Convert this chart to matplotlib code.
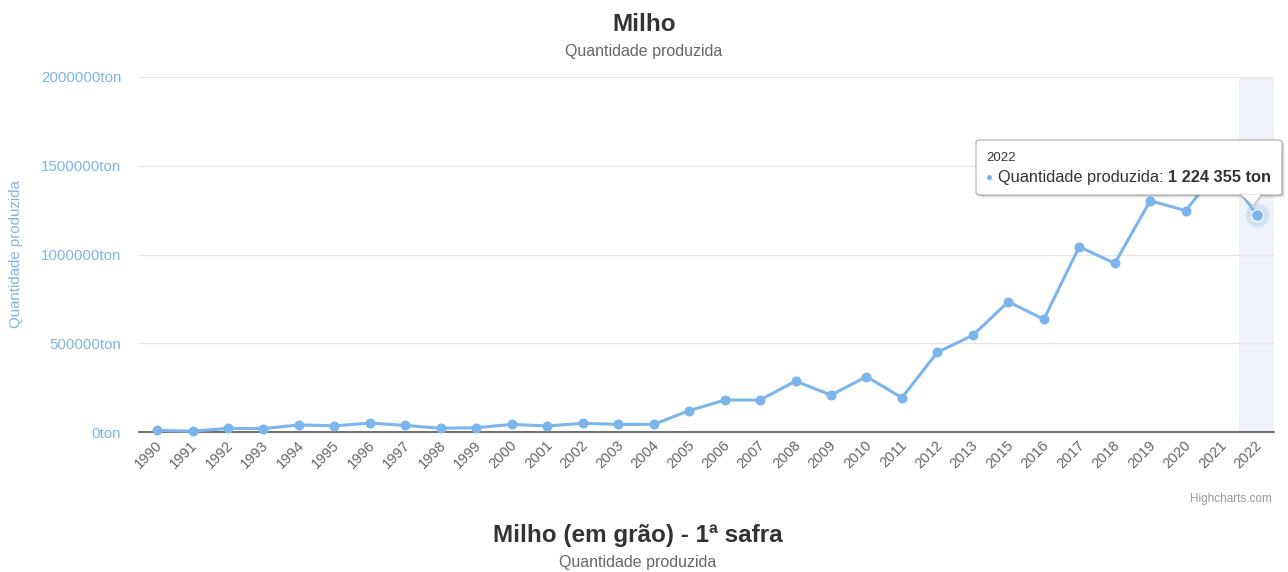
import matplotlib
matplotlib.use("Agg")
import matplotlib.pyplot as plt
from matplotlib.patches import FancyBboxPatch, Polygon
from matplotlib.transforms import ScaledTranslation

plt.rcParams['font.family'] = ['Liberation Sans', 'DejaVu Sans']

years = ['1990', '1991', '1992', '1993', '1994', '1995', '1996', '1997', '1998', '1999',
         '2000', '2001', '2002', '2003', '2004', '2005', '2006', '2007', '2008', '2009',
         '2010', '2011', '2012', '2013', '2015', '2016', '2017', '2018', '2019', '2020',
         '2021', '2022']
producao = [9000, 5000, 20000, 19000, 40000, 35000, 50000, 37000, 21000, 24000,
            43000, 34000, 49000, 43000, 43000, 120000, 180000, 180000, 287000, 208000,
            312000, 193000, 449000, 545000, 734000, 635000, 1044000, 950000, 1303000, 1247000,
            1500000, 1224355]
yticks = [0, 500000, 1000000, 1500000, 2000000]
ytick_labels = ['0ton', '500000ton', '1000000ton', '1500000ton', '2000000ton']

W, H = 1288, 572
fig = plt.figure(figsize=(W / 100, H / 100), dpi=100)
fig.patch.set_facecolor('white')

def fx(px):
    return px / W

def fy(py):
    return 1 - py / H

ax = fig.add_axes([fx(139.3), fy(432), fx(1274.4) - fx(139.3), (432 - 77) / H])
ax.set_facecolor('white')
n = len(years)
xs = list(range(n))
ax.set_xlim(-0.5, n - 0.5)
ax.set_ylim(0, 2000000)

blue = '#7cb5ec'
# highlight band for hovered category
ax.axvspan(n - 1.5, n - 0.5, color='#ccd6eb', alpha=0.3, lw=0, zorder=0)

ax.set_yticks(yticks)
ax.set_yticklabels(ytick_labels)
ax.grid(axis='y', color='#e6e6e6', lw=1, zorder=1)
ax.set_axisbelow(True)
for s in ['top', 'right', 'left']:
    ax.spines[s].set_visible(False)
ax.spines['bottom'].set_color('#555555')
ax.spines['bottom'].set_linewidth(1.2)
ax.spines['bottom'].set_zorder(2)

ax.tick_params(axis='y', length=0, pad=13, labelsize=10.8, labelcolor=blue)
ax.set_xticks(xs)
ax.set_xticklabels(years)
ax.tick_params(axis='x', length=0, pad=8, labelsize=10.5, labelcolor='#666666')
for lab in ax.get_xticklabels():
    lab.set_rotation(45)
    lab.set_ha('right')
    lab.set_va('center')
    lab.set_rotation_mode('anchor')
    lab.set_transform(lab.get_transform() + ScaledTranslation(3 / 100, 0, fig.dpi_scale_trans))

ax.plot(xs, producao, color=blue, lw=2.2, marker='o', markersize=6.2,
        markerfacecolor=blue, markeredgecolor=blue, zorder=3, clip_on=False)
# hovered point halo
ax.plot([xs[-1]], [producao[-1]], 'o', markersize=17, color=blue, alpha=0.25, zorder=3, mec='none')
ax.plot([xs[-1]], [producao[-1]], 'o', markersize=8.5, color=blue, zorder=4, mec='white', mew=0.8)

fig.text(fx(16), fy(254), 'Quantidade produzida', rotation=90, ha='center', va='center',
         color=blue, fontsize=10.8)

# titles
fig.text(0.5, fy(31), 'Milho', ha='center', va='baseline', fontsize=17.5,
         fontweight='bold', color='#333333')
fig.text(0.5, fy(56), 'Quantidade produzida', ha='center', va='baseline',
         fontsize=11.5, color='#666666')
fig.text(fx(638), fy(542), 'Milho (em grão) - 1ª safra', ha='center', va='baseline',
         fontsize=17.5, fontweight='bold', color='#333333')
fig.text(fx(638), fy(567), 'Quantidade produzida', ha='center', va='baseline',
         fontsize=11.5, color='#666666')
fig.text(fx(1272), fy(502), 'Highcharts.com', ha='right', va='baseline',
         fontsize=8.5, color='#999999')

# tooltip
bx0, by0, bx1, by1 = 976, 140, 1282, 195
for off, a in [(3, 0.06), (2, 0.08), (1, 0.1)]:
    sh = FancyBboxPatch((fx(bx0 + off), fy(by1 + off)), fx(bx1) - fx(bx0), (by1 - by0) / H,
                        boxstyle='round,pad=0,rounding_size=0.004', transform=fig.transFigure,
                        facecolor='black', edgecolor='none', alpha=a, zorder=9)
    fig.patches.append(sh)
pointer_shadow = Polygon([[fx(1242), fy(by1 + 2)], [fx(1262), fy(by1 + 2)], [fx(1255), fy(207)]],
                         closed=True, transform=fig.transFigure, facecolor='black', alpha=0.08,
                         edgecolor='none', zorder=9)
fig.patches.append(pointer_shadow)
box = FancyBboxPatch((fx(bx0), fy(by1)), fx(bx1) - fx(bx0), (by1 - by0) / H,
                     boxstyle='round,pad=0,rounding_size=0.004', transform=fig.transFigure,
                     facecolor='white', edgecolor='#aaaaaa', lw=0.8, zorder=10)
fig.patches.append(box)
pointer = Polygon([[fx(1241), fy(by1 - 0.5)], [fx(1261), fy(by1 - 0.5)], [fx(1253), fy(205)]],
                  closed=True, transform=fig.transFigure, facecolor='white',
                  edgecolor='none', zorder=11)
fig.patches.append(pointer)
fig.lines.append(plt.Line2D([fx(1241), fx(1253), fx(1261)], [fy(by1), fy(205), fy(by1)],
                            transform=fig.transFigure, color='#aaaaaa', lw=0.8, zorder=11))
fig.text(fx(986), fy(161), years[-1], ha='left', va='baseline', fontsize=9.5,
         color='#333333', zorder=12)
fig.text(fx(986), fy(181), '●', ha='left', va='baseline', fontsize=8.5, color=blue, zorder=12)
t1 = fig.text(fx(998), fy(182), 'Quantidade produzida: ', ha='left', va='baseline',
              fontsize=11.8, color='#333333', zorder=12)
fig.canvas.draw()
bb = t1.get_window_extent()
val = f"{producao[-1]:,}".replace(',', ' ') + ' ton'
fig.text(bb.x1 / W, fy(182), val, ha='left', va='baseline', fontsize=11.8,
         fontweight='bold', color='#333333', zorder=12)

fig.savefig('out.png', dpi=100, facecolor='white')
